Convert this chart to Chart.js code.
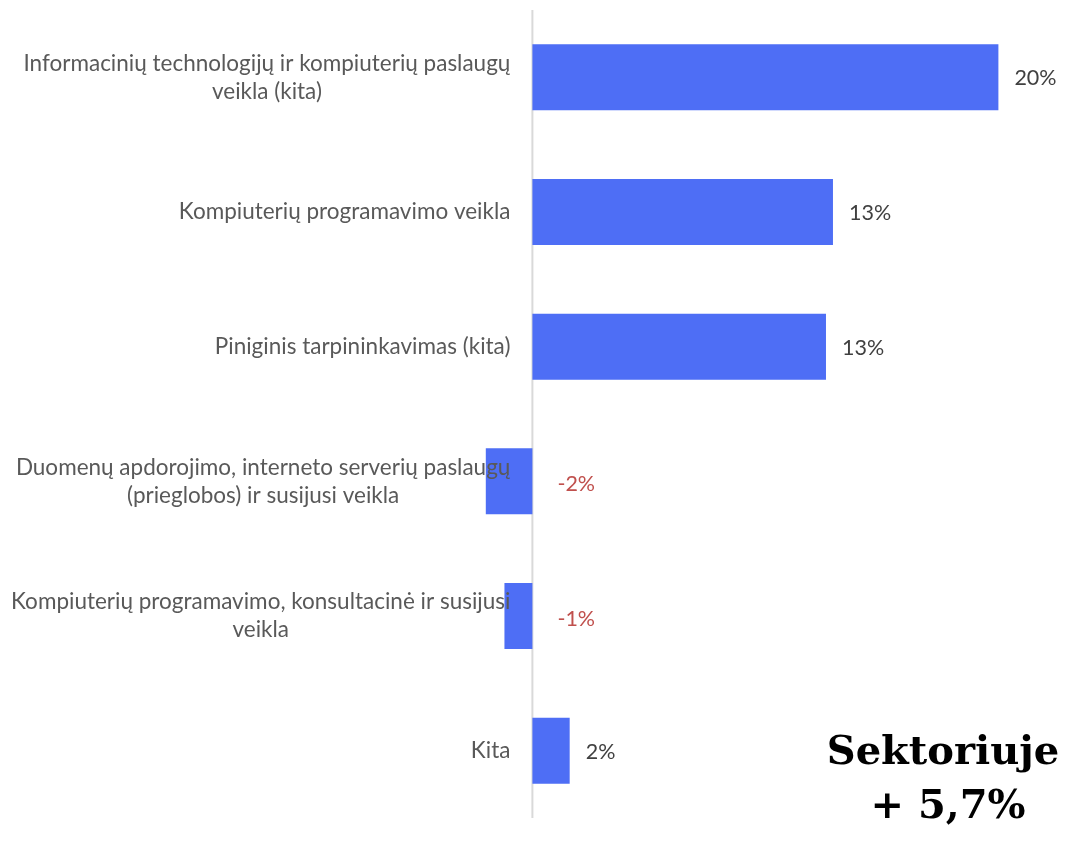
<!DOCTYPE html>
<html>
<head>
<meta charset="utf-8">
<script src="https://cdn.jsdelivr.net/npm/chart.js@4/dist/chart.umd.min.js"></script>
<style>
  html, body { margin: 0; padding: 0; background: #ffffff; }
  #wrap { width: 1069px; height: 841px; }
</style>
</head>
<body>
<div id="wrap"><canvas id="c" width="1069" height="841"></canvas></div>
<script>
// ---- data ----
const categories = [
  ["Informacinių technologijų ir kompiuterių paslaugų", "veikla (kita)"],
  ["Kompiuterių programavimo veikla"],
  ["Piniginis tarpininkavimas (kita)"],
  ["Duomenų apdorojimo, interneto serverių paslaugų", "(prieglobos) ir susijusi veikla"],
  ["Kompiuterių programavimo, konsultacinė ir susijusi", "veikla"],
  ["Kita"]
];
const changePct = [20.0, 12.9, 12.6, -2.0, -1.2, 1.6];
const valueLabels = ["20%", "13%", "13%", "-2%", "-1%", "2%"];
const noteLines = ["Sektoriuje", "+ 5,7%"];

const BAR = '#4E6EF5';
const TEXT = '#595959';
const VAL = '#404040';
const NEG = '#C0504D';
const LABEL_FONT = '22.5px Lato, "Open Sans", sans-serif';
const VALUE_FONT = '21.5px Lato, "Open Sans", sans-serif';

const overlay = {
  id: 'overlay',
  beforeDatasetsDraw(chart) {
    const ctx = chart.ctx, x = chart.scales.x, a = chart.chartArea;
    const zx = x.getPixelForValue(0);
    ctx.save();
    ctx.strokeStyle = '#D9D9D9';
    ctx.lineWidth = 2;
    ctx.beginPath();
    ctx.moveTo(zx, a.top);
    ctx.lineTo(zx, a.bottom);
    ctx.stroke();
    ctx.restore();
  },
  afterDatasetsDraw(chart) {
    const ctx = chart.ctx, x = chart.scales.x, y = chart.scales.y;
    const zx = x.getPixelForValue(0);
    ctx.save();
    // category labels: block right-aligned, lines centred within block
    ctx.font = LABEL_FONT;
    ctx.fillStyle = TEXT;
    ctx.textBaseline = 'middle';
    ctx.textAlign = 'center';
    const lineH = 28;
    const rightEdge = zx - 22;
    categories.forEach((lines, i) => {
      const cy = y.getPixelForValue(i);
      const maxW = Math.max(...lines.map(l => ctx.measureText(l).width));
      const cx = rightEdge - maxW / 2;
      const top = cy - (lines.length - 1) * lineH / 2;
      lines.forEach((l, j) => ctx.fillText(l, cx, top + j * lineH));
    });
    // value labels
    ctx.font = VALUE_FONT;
    ctx.textAlign = 'left';
    changePct.forEach((v, i) => {
      const cy = y.getPixelForValue(i);
      if (v >= 0) {
        ctx.fillStyle = VAL;
        ctx.fillText(valueLabels[i], x.getPixelForValue(v) + 16, cy + 1);
      } else {
        ctx.fillStyle = NEG;
        ctx.fillText(valueLabels[i], zx + 25, cy + 3);
      }
    });
    // note
    ctx.fillStyle = '#000000';
    ctx.textAlign = 'center';
    ctx.textBaseline = 'alphabetic';
    ctx.font = 'bold 40px "DejaVu Serif", serif';
    ctx.fillText(noteLines[0], 943, 764);
    ctx.fillText(noteLines[1], 948, 818);
    ctx.restore();
  }
};

new Chart(document.getElementById('c'), {
  type: 'bar',
  data: {
    labels: categories.map(c => c.join(' ')),
    datasets: [{
      data: changePct,
      backgroundColor: BAR,
      borderWidth: 0,
      barPercentage: 0.49,
      categoryPercentage: 1.0
    }]
  },
  options: {
    indexAxis: 'y',
    responsive: false,
    animation: false,
    layout: { padding: { left: 0, right: 0, top: 10, bottom: 23 } },
    plugins: { legend: { display: false }, tooltip: { enabled: false } },
    scales: {
      x: { display: false, min: -22.85, max: 23.03 },
      y: { display: false }
    }
  },
  plugins: [overlay]
});
</script>
</body>
</html>
